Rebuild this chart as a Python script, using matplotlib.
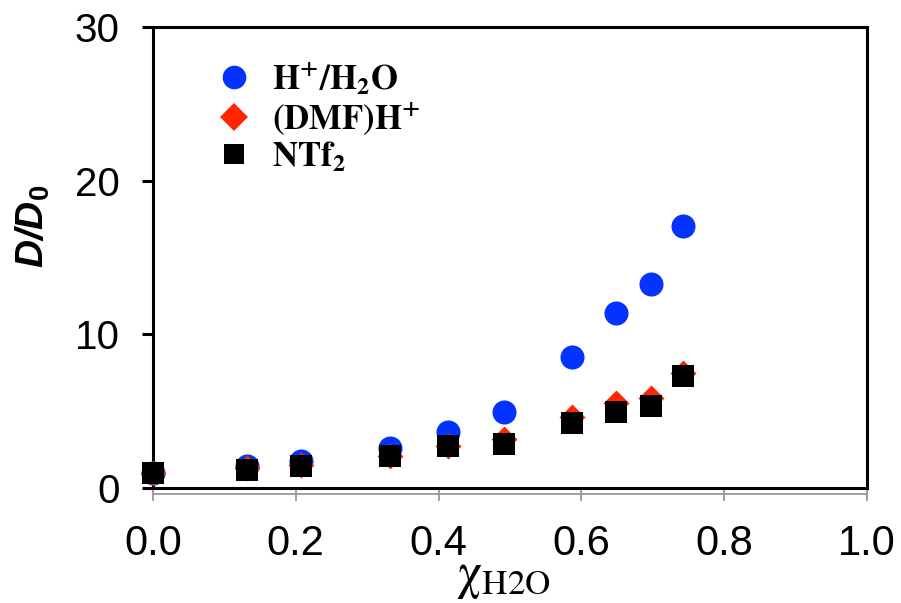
import matplotlib
matplotlib.use("Agg")
import matplotlib.pyplot as plt
from matplotlib.lines import Line2D

x_h2o = [0.0, 0.131, 0.207, 0.332, 0.413, 0.491, 0.587, 0.648, 0.698, 0.742]
h_h2o = [1.0, 1.42, 1.75, 2.58, 3.67, 4.93, 8.54, 11.4, 13.3, 17.05]
dmf_h = [1.0, 1.27, 1.48, 2.05, 2.73, 3.19, 4.65, 5.52, 5.85, 7.49]
ntf2 = [1.0, 1.20, 1.40, 2.07, 2.73, 2.84, 4.21, 4.93, 5.35, 7.31]

labels = [r'$\mathbf{H^{+}/H_{2}O}$', r'$\mathbf{(DMF)H^{+}}$', r'$\mathbf{NTf_{2}}$']
xticks = [0.0, 0.2, 0.4, 0.6, 0.8, 1.0]
yticks = [0, 10, 20, 30]

blue = '#0433FF'
red = '#FF2600'

plt.rcParams['mathtext.fontset'] = 'custom'
plt.rcParams['mathtext.rm'] = 'Liberation Sans'
plt.rcParams['mathtext.bf'] = 'Liberation Sans:bold'
plt.rcParams['mathtext.it'] = 'Liberation Sans:italic'
plt.rcParams['mathtext.bfit'] = 'Liberation Sans:bold:italic'
plt.rcParams['font.family'] = ['Liberation Sans', 'DejaVu Sans']

fig = plt.figure(figsize=(9.01, 6.03), dpi=100)
ax = fig.add_axes([153/901, 1-488/603, 714/901, 461/603])

ax.scatter(x_h2o, h_h2o, s=300, marker='o', color=blue, linewidths=0, clip_on=False, zorder=3)
ax.scatter(x_h2o, dmf_h, s=175, marker='D', color=red, linewidths=0, clip_on=False, zorder=4)
ax.scatter(x_h2o, ntf2, s=250, marker='s', color='black', linewidths=0, clip_on=False, zorder=5)

ax.set_xlim(0, 1.0)
ax.set_ylim(0, 30)
ax.set_xticks(xticks)
ax.set_xticklabels([f'{v:.1f}' for v in xticks])
ax.set_yticks(yticks)

for s in ax.spines.values():
    s.set_linewidth(2.2)
    s.set_color('black')

# thin gray line under the x axis, as in the reference
ax.plot([0, 1], [-0.012, -0.012], transform=ax.transAxes, color='#999999',
        lw=1.3, clip_on=False, zorder=1)

ax.tick_params(axis='y', direction='out', length=8, width=2.2, color='black',
               labelsize=29, pad=16)
ax.tick_params(axis='x', direction='out', length=9, width=1.3, color='#999999',
               labelsize=30, pad=17)

fig.text(33/901, 1-226/603, r'$\mathbfit{D/D}_{\mathbf{0}}$', rotation=90,
         fontsize=28, ha='center', va='center')

xl = fig.text(503/901, 1-578/603, r'$\mathrm{\chi}_{\mathrm{H2O}}$', fontsize=36,
              ha='center', va='center')
xl.set_math_fontfamily('stix')

handles = [
    Line2D([], [], marker='o', color=blue, linestyle='none', markersize=17, markeredgewidth=0),
    Line2D([], [], marker='D', color=red, linestyle='none', markersize=14, markeredgewidth=0),
    Line2D([], [], marker='s', color='black', linestyle='none', markersize=15, markeredgewidth=0),
]
leg = ax.legend(handles, labels, loc='upper left', bbox_to_anchor=(0.065, 0.96),
                frameon=False, fontsize=25, labelspacing=0.08, handletextpad=0.5,
                borderaxespad=0, handlelength=1.2)
for t in leg.get_texts():
    t.set_math_fontfamily('stix')

fig.savefig('out.png', dpi=100)
